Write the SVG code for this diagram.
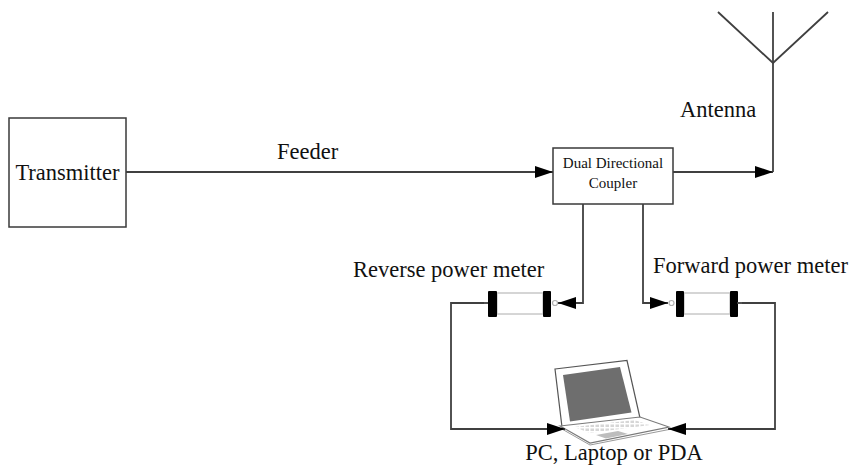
<svg xmlns="http://www.w3.org/2000/svg" width="852" height="470" viewBox="0 0 852 470">
  <style>
    .box { fill: #ffffff; stroke: #3a3a3a; stroke-width: 1.5; }
    .wire { fill: none; stroke: #404040; stroke-width: 1.8; }
    .lbl { font-family: "Liberation Serif", "Times New Roman", serif; font-size: 22.5px; fill: #111111; }
    .small { font-family: "Liberation Serif", "Times New Roman", serif; font-size: 15px; fill: #111111; }
    .cap { fill: #000000; }
    .tube { fill: #ffffff; stroke: #c8c8c8; stroke-width: 1.5; }
    .port { fill: #ffffff; stroke: #b0b0b0; stroke-width: 1.2; }
  </style>
  <defs>
    <marker id="arrow" viewBox="0 0 18 12" refX="18" refY="6" markerWidth="18" markerHeight="12" markerUnits="userSpaceOnUse" orient="auto">
      <path d="M0,0 L18,6 L0,12 Z" fill="#000000"/>
    </marker>
    <pattern id="keys" width="5" height="4" patternUnits="userSpaceOnUse">
      <rect width="5" height="4" fill="#ffffff"/>
      <rect x="0.5" y="0.5" width="3.5" height="2.5" fill="#d6d6d6"/>
    </pattern>
  </defs>

  <!-- transmitter -->
  <g id="transmitter">
    <rect class="box" x="9" y="118" width="117" height="109"/>
    <text class="lbl" x="67.5" y="180" text-anchor="middle">Transmitter</text>
  </g>

  <!-- dual directional coupler -->
  <g id="coupler">
    <rect class="box" x="553" y="148" width="120" height="56"/>
    <text class="small" x="613" y="168" text-anchor="middle">Dual Directional</text>
    <text class="small" x="613" y="188" text-anchor="middle">Coupler</text>
  </g>

  <!-- antenna -->
  <g id="antenna">
    <line class="wire" x1="773" y1="12" x2="773" y2="172"/>
    <polyline class="wire" points="718,12 773,63 828,12"/>
    <text class="lbl" x="680" y="117">Antenna</text>
  </g>

  <!-- reverse power meter -->
  <g id="reverse-meter">
    <line class="wire" x1="484" y1="303" x2="489" y2="303"/>
    <rect class="tube" x="497" y="293" width="46" height="21"/>
    <rect class="cap" x="488" y="291" width="9" height="26" rx="1"/>
    <rect class="cap" x="543" y="291" width="8" height="26" rx="1"/>
    <circle class="port" cx="555" cy="303" r="2.5"/>
    <text class="lbl" x="353" y="277">Reverse power meter</text>
  </g>

  <!-- forward power meter -->
  <g id="forward-meter">
    <circle class="port" cx="671.5" cy="303" r="2.5"/>
    <rect class="tube" x="684" y="293" width="46" height="21"/>
    <rect class="cap" x="676" y="291" width="8" height="26" rx="1"/>
    <rect class="cap" x="730" y="291" width="8" height="26" rx="1"/>
    <line class="wire" x1="737" y1="303" x2="742" y2="303"/>
    <text class="lbl" x="653" y="273">Forward power meter</text>
  </g>

  <!-- laptop -->
  <g id="laptop">
    <!-- lid -->
    <polygon points="555,369 627,360.5 640,418 562,427" fill="#ffffff" stroke="#555555" stroke-width="1.2"/>
    <polygon points="563,375 620,367 631.5,412.5 570,421.5" fill="#6e6e6e"/>
    <!-- base -->
    <polygon points="560,426 640,417 669,427 590,443" fill="#ffffff" stroke="#7a7a7a" stroke-width="1.2"/>
    <polyline points="561,428.5 590,445 669,429.5" fill="none" stroke="#9a9a9a" stroke-width="1"/>
    <polygon points="574,427 634,420 650,425 590,433" fill="url(#keys)"/>
    <polygon points="596,435 618,431 628,434 606,438.5" fill="#bdbdbd"/>
    <text class="lbl" x="614" y="460" text-anchor="middle">PC, Laptop or PDA</text>
  </g>

  <!-- connectors -->
  <g id="connectors">
    <line class="wire" x1="126" y1="172" x2="553" y2="172" marker-end="url(#arrow)"/>
    <polyline class="wire" points="673,172 773,172" marker-end="url(#arrow)"/>
    <polyline class="wire" points="583,204 583,303 558,303" marker-end="url(#arrow)"/>
    <polyline class="wire" points="643,204 643,303 668,303" marker-end="url(#arrow)"/>
    <polyline class="wire" points="484,303 451,303 451,429 565,429" marker-end="url(#arrow)"/>
    <polyline class="wire" points="742,303 775,303 775,429 668,429" marker-end="url(#arrow)"/>
    <text class="lbl" x="277" y="159">Feeder</text>
  </g>
</svg>
